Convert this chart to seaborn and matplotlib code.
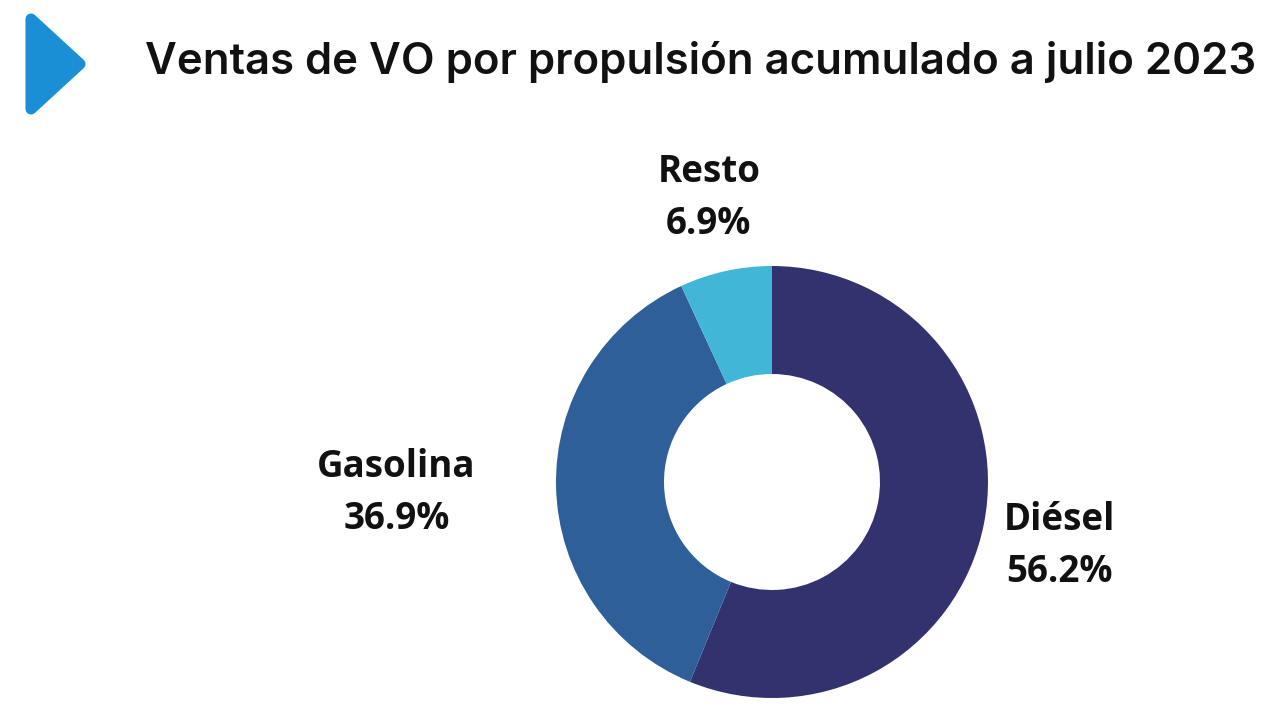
import numpy as np
import matplotlib
matplotlib.use("Agg")
import matplotlib.pyplot as plt
import seaborn as sns
from matplotlib.patches import Polygon

categories = ["Diésel", "Gasolina", "Resto"]
shares = [56.2, 36.9, 6.9]
colors = ["#32336e", "#2e5f98", "#42b6d6"]
title = "Ventas de VO por propulsión acumulado a julio 2023"

sns.set_theme(style="white")
plt.rcParams['font.family'] = ['Open Sans', 'DejaVu Sans']

W, H = 1280, 720
fig = plt.figure(figsize=(12.8, 7.2), dpi=100)
fig.patch.set_facecolor("white")

cx, cy, r = 772, 482, 216
ax = fig.add_axes([(cx - r) / W, (H - cy - r) / H, 2 * r / W, 2 * r / H])
wedges, _ = ax.pie(shares, colors=colors, startangle=90, counterclock=False,
                   radius=1.0, wedgeprops=dict(width=0.5, linewidth=0))
ax.set_xlim(-1, 1)
ax.set_ylim(-1, 1)
ax.set_aspect("equal")
ax.axis("off")

dists = [1.355, 1.74, 1.36]
shifts = [-7, -3, -3]
for w, cat, val, d, s in zip(wedges, categories, shares, dists, shifts):
    ang = np.deg2rad((w.theta1 + w.theta2) / 2)
    x, y = d * np.cos(ang), d * np.sin(ang)
    for txt, off in ((cat, 26 + s), (f"{val:.1f}%", -26 + s)):
        ax.annotate(txt, xy=(x, y), xytext=(0, off * 0.72), textcoords="offset points",
                    ha="center", va="center", fontsize=26.5, fontweight="bold",
                    color="#111111", annotation_clip=False)

# title, fitted to the reference width
t = fig.text(145 / W, 1 - 62 / H, title, ha="left", va="center",
             fontsize=28, fontweight=600, color="#111111",
             family=["Inter", "DejaVu Sans"])
fig.canvas.draw()
wpx = t.get_window_extent().width
t.set_fontsize(28 * 1112 / wpx)

# icon: rounded triangle
iax = fig.add_axes([0, 0, 1, 1], zorder=-1)
iax.set_xlim(0, W)
iax.set_ylim(H, 0)
iax.axis("off")
tri = Polygon([[31, 19], [31, 109], [80, 64]], closed=True,
              facecolor="#1a8fd6", edgecolor="#1a8fd6", linewidth=8,
              joinstyle="round")
iax.add_patch(tri)

fig.savefig("out.png", dpi=100, facecolor="white")
